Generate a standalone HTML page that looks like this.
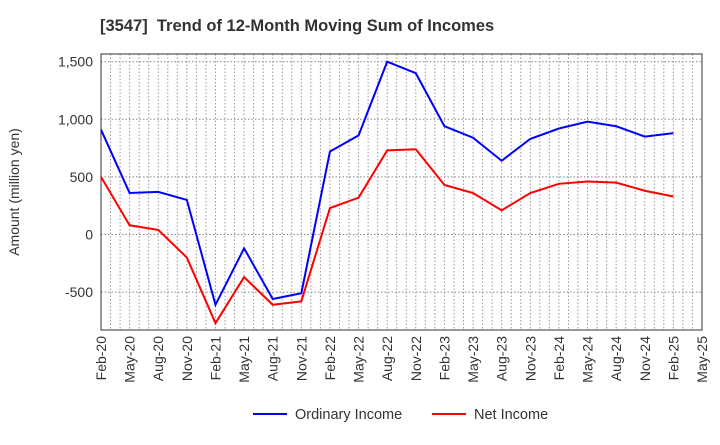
<!DOCTYPE html>
<html><head><meta charset="utf-8"><style>
body{margin:0;background:#fff;font-family:"Liberation Sans",sans-serif;}
</style></head><body>
<svg id="chart" width="720" height="440" xmlns="http://www.w3.org/2000/svg">
<text x="100" y="31" font-size="16.5" font-weight="bold" fill="#333" style="white-space:pre">[3547]  Trend of 12-Month Moving Sum of Incomes</text>
<g id="grid"></g><g id="axes"></g><g id="series"></g>
<text transform="translate(19,192) rotate(-90)" text-anchor="middle" font-size="14" fill="#333">Amount (million yen)</text>
<g>
<line x1="253" y1="414" x2="287" y2="414" stroke="#0000ff" stroke-width="2"/>
<text x="295" y="419" font-size="14.5" fill="#333">Ordinary Income</text>
<line x1="432" y1="414" x2="466" y2="414" stroke="#ff0000" stroke-width="2"/>
<text x="474" y="419" font-size="14.5" fill="#333">Net Income</text>
</g>
</svg>
<script>
const tickLabels=["Feb-20","May-20","Aug-20","Nov-20","Feb-21","May-21","Aug-21","Nov-21","Feb-22","May-22","Aug-22","Nov-22","Feb-23","May-23","Aug-23","Nov-23","Feb-24","May-24","Aug-24","Nov-24","Feb-25","May-25"];
const yTicks=[-500,0,500,1000,1500];
const ordinaryIncome=[910,360,370,300,-610,-120,-560,-510,720,860,1500,1400,940,840,640,830,920,980,940,850,880];
const netIncome=[500,80,40,-200,-770,-370,-610,-580,230,320,730,740,430,360,210,360,440,460,450,380,330];
const NS="http://www.w3.org/2000/svg";
const L=101,R=702,T=54,B=330;
const step=(R-L)/21;
const x=i=>L+i*step;
const y=v=>234.5-v*(57.6/500);
function mk(t,a,p){const e=document.createElementNS(NS,t);for(const k in a)e.setAttribute(k,a[k]);p.appendChild(e);return e;}
const grid=document.getElementById('grid'),axes=document.getElementById('axes'),ser=document.getElementById('series');
mk('rect',{x:L,y:T,width:R-L,height:B-T,fill:'#fff',stroke:'none'},grid);
for(let m=1;m<63;m++){const gx=L+m*step/3;
const g=mk('line',{x1:gx,y1:T,x2:gx,y2:B,stroke:'#999','stroke-width':1,'stroke-dasharray':'1.5,2'},grid);

}
yTicks.forEach(v=>{
const g=mk('line',{x1:L,y1:y(v),x2:R,y2:y(v),stroke:'#888','stroke-width':1,'stroke-dasharray':'1.5,2'},grid);


const t=mk('text',{x:L-8,y:y(v)+5,'text-anchor':'end','font-size':14,fill:'#333'},axes);
t.textContent=v.toLocaleString('en-US');

});
mk('rect',{x:L,y:T,width:R-L,height:B-T,fill:'none',stroke:'#333','stroke-width':1},axes);
tickLabels.forEach((s,i)=>{
const t=mk('text',{transform:`translate(${x(i)+5},${B+6}) rotate(-90)`,'text-anchor':'end','font-size':14,fill:'#333'},axes);
t.textContent=s;

});
function line(d,c,n){const p=mk('polyline',{points:d.map((v,i)=>x(i)+','+y(v)).join(' '),fill:'none',stroke:c,'stroke-width':2},ser);

}
line(ordinaryIncome,'#0000ff','ordinary-income-line');
line(netIncome,'#ff0000','net-income-line');
</script>
</body></html>
